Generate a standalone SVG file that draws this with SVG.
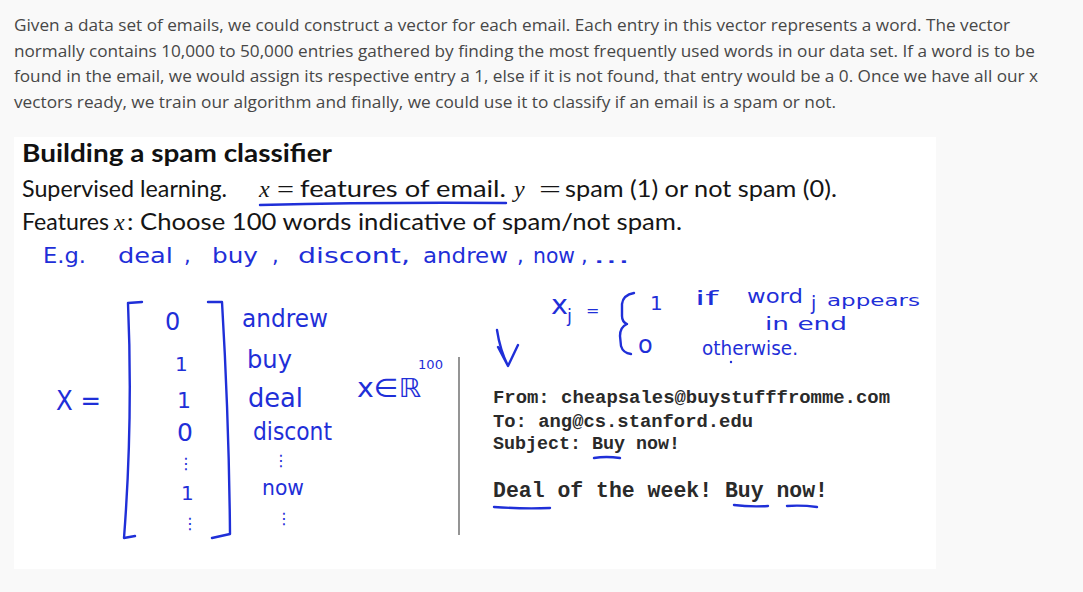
<svg xmlns="http://www.w3.org/2000/svg" width="1083" height="592" viewBox="0 0 1083 592">
<style>
.para{font-family:"Open Sans","Liberation Sans",sans-serif;font-size:16px;fill:#474747;}
.slide{font-family:Lato,"Open Sans","Liberation Sans",sans-serif;font-size:24px;fill:#151515;}
.title{font-weight:bold;fill:#111;}
.math{font-family:"Liberation Serif",serif;font-style:italic;font-size:24px;fill:#151515;}
.eq{font-family:"Liberation Serif",serif;font-size:24px;fill:#151515;}
.hw{font-family:"DejaVu Sans",sans-serif;fill:#1f2fd8;}
.mono{font-family:"Liberation Mono","Courier New",monospace;font-weight:bold;fill:#2a2a2a;}
.ink{fill:none;stroke:#1f2fd8;stroke-width:2.4;stroke-linecap:round;stroke-linejoin:round;}
</style>
<rect x="0" y="0" width="1083" height="592" fill="#f9f9f9"/>
<g id="paragraph">
<text class="para" x="14" y="31" textLength="996" lengthAdjust="spacingAndGlyphs">Given a data set of emails, we could construct a vector for each email. Each entry in this vector represents a word. The vector</text>
<text class="para" x="14" y="56.5" textLength="1021" lengthAdjust="spacingAndGlyphs">normally contains 10,000 to 50,000 entries gathered by finding the most frequently used words in our data set. If a word is to be</text>
<text class="para" x="14" y="82" textLength="1024" lengthAdjust="spacingAndGlyphs">found in the email, we would assign its respective entry a 1, else if it is not found, that entry would be a 0. Once we have all our x</text>
<text class="para" x="14" y="107.5" textLength="822" lengthAdjust="spacingAndGlyphs">vectors ready, we train our algorithm and finally, we could use it to classify if an email is a spam or not.</text>
</g>
<g id="slide">
<rect x="14" y="137" width="922" height="432" fill="#ffffff"/>
<text class="slide title" x="22" y="162" textLength="310" lengthAdjust="spacingAndGlyphs">Building a spam classifier</text>
<text class="slide" x="22" y="197" textLength="205" lengthAdjust="spacingAndGlyphs">Supervised learning.</text>
<text class="math" x="259" y="197">x</text>
<text class="eq" x="277" y="197" textLength="17" lengthAdjust="spacingAndGlyphs">=</text>
<text class="slide" x="300" y="197" textLength="206" lengthAdjust="spacingAndGlyphs">features of email.</text>
<text class="math" x="514" y="197">y</text>
<text class="eq" x="539" y="197" textLength="22" lengthAdjust="spacingAndGlyphs">=</text>
<text class="slide" x="565" y="197" textLength="272" lengthAdjust="spacingAndGlyphs">spam (1) or not spam (0).</text>
<text class="slide" x="22" y="230" textLength="87" lengthAdjust="spacingAndGlyphs">Features</text>
<text class="math" x="114" y="230">x</text>
<text class="slide" x="127" y="230" textLength="555" lengthAdjust="spacingAndGlyphs">: Choose 100 words indicative of spam/not spam.</text>
</g>
<g id="handwriting">
<path class="ink" d="M260 205 Q380 202 506 203"/>
<text class="hw" x="43" y="263" font-size="21" textLength="43" lengthAdjust="spacingAndGlyphs">E.g.</text>
<text class="hw" x="118" y="263" font-size="21" textLength="55" lengthAdjust="spacingAndGlyphs">deal</text>
<text class="hw" x="184" y="263" font-size="21">,</text>
<text class="hw" x="212" y="263" font-size="21" textLength="46" lengthAdjust="spacingAndGlyphs">buy</text>
<text class="hw" x="272" y="263" font-size="21">,</text>
<text class="hw" x="298" y="263" font-size="21" textLength="112" lengthAdjust="spacingAndGlyphs">discont,</text>
<text class="hw" x="423" y="263" font-size="21" textLength="85" lengthAdjust="spacingAndGlyphs">andrew</text>
<text class="hw" x="517" y="263" font-size="21">,</text>
<text class="hw" x="533" y="263" font-size="21" textLength="42" lengthAdjust="spacingAndGlyphs">now</text>
<text class="hw" x="581" y="263" font-size="21">,</text>
<text class="hw" x="593" y="263" font-size="21" textLength="37" lengthAdjust="spacingAndGlyphs">...</text>
</g>
<g id="vector">
<text class="hw" x="56" y="410" font-size="26" textLength="45" lengthAdjust="spacingAndGlyphs">X =</text>
<path class="ink" d="M142 302 L128 303 Q133 420 124 538 L135 536"/>
<path class="ink" d="M208 302 L222 302 Q229 420 230 534 L212 538"/>
<text class="hw" x="165" y="330" font-size="24">0</text>
<text class="hw" x="175" y="371" font-size="20">1</text>
<text class="hw" x="177" y="408" font-size="22">1</text>
<text class="hw" x="177" y="441" font-size="25">0</text>
<text class="hw" x="178" y="469" font-size="16">⋮</text>
<text class="hw" x="181" y="500" font-size="20">1</text>
<text class="hw" x="182" y="529" font-size="16">⋮</text>
<text class="hw" x="242" y="327" font-size="25" textLength="86" lengthAdjust="spacingAndGlyphs">andrew</text>
<text class="hw" x="247" y="368" font-size="25" textLength="45" lengthAdjust="spacingAndGlyphs">buy</text>
<text class="hw" x="248" y="407" font-size="27" textLength="55" lengthAdjust="spacingAndGlyphs">deal</text>
<text class="hw" x="253" y="440" font-size="25" textLength="79" lengthAdjust="spacingAndGlyphs">discont</text>
<text class="hw" x="273" y="466" font-size="16">⋮</text>
<text class="hw" x="262" y="495" font-size="21" textLength="42" lengthAdjust="spacingAndGlyphs">now</text>
<text class="hw" x="276" y="524" font-size="16">⋮</text>
<text class="hw" x="357" y="397" font-size="26" textLength="64" lengthAdjust="spacingAndGlyphs">x∈ℝ</text>
<text class="hw" x="418" y="369" font-size="13" textLength="25" lengthAdjust="spacingAndGlyphs">100</text>
</g>
<g id="feature-def">
<text class="hw" x="551" y="314" font-size="26" textLength="17" lengthAdjust="spacingAndGlyphs">x</text>
<text class="hw" x="567" y="322" font-size="18">j</text>
<text class="hw" x="586" y="316" font-size="16">=</text>
<path class="ink" d="M634 293 Q623 295 622 304 L622 316 Q622 322 627 324 Q620 327 620 336 L621 346 Q623 353 631 354"/>
<text class="hw" x="650" y="310" font-size="20">1</text>
<text class="hw" x="638" y="353" font-size="24">o</text>
<text class="hw" x="695" y="305" font-size="20" textLength="23" lengthAdjust="spacingAndGlyphs">if</text>
<text class="hw" x="747" y="303" font-size="19" textLength="56" lengthAdjust="spacingAndGlyphs">word</text>
<text class="hw" x="811" y="310" font-size="19">j</text>
<text class="hw" x="827" y="306" font-size="16" textLength="93" lengthAdjust="spacingAndGlyphs">appears</text>
<text class="hw" x="765" y="330" font-size="18" textLength="82" lengthAdjust="spacingAndGlyphs">in end</text>
<text class="hw" x="702" y="355" font-size="19" textLength="96" lengthAdjust="spacingAndGlyphs">otherwise.</text>
<circle cx="731" cy="362" r="1.2" fill="#1f2fd8"/>
<path class="ink" d="M497 330 Q500 350 508 366 M498 347 L508 366 L518 345"/>
</g>
<line x1="459" y1="357" x2="459" y2="535" stroke="#7a7a7a" stroke-width="1.6"/>
<g id="email">
<text class="mono" x="493" y="403" font-size="19" textLength="397" lengthAdjust="spacingAndGlyphs">From: cheapsales@buystufffromme.com</text>
<text class="mono" x="493" y="427" font-size="19" textLength="260" lengthAdjust="spacingAndGlyphs">To: ang@cs.stanford.edu</text>
<text class="mono" x="493" y="449" font-size="19" textLength="187" lengthAdjust="spacingAndGlyphs">Subject: Buy now!</text>
<text class="mono" x="493" y="497" font-size="22" textLength="335" lengthAdjust="spacingAndGlyphs">Deal of the week! Buy now!</text>
<path class="ink" d="M594 458 Q606 456 620 458"/>
<path class="ink" d="M494 507 Q522 509 550 508"/>
<path class="ink" d="M734 505 Q750 507 768 506"/>
<path class="ink" d="M787 506 Q802 505 817 507"/>
</g>
</svg>
